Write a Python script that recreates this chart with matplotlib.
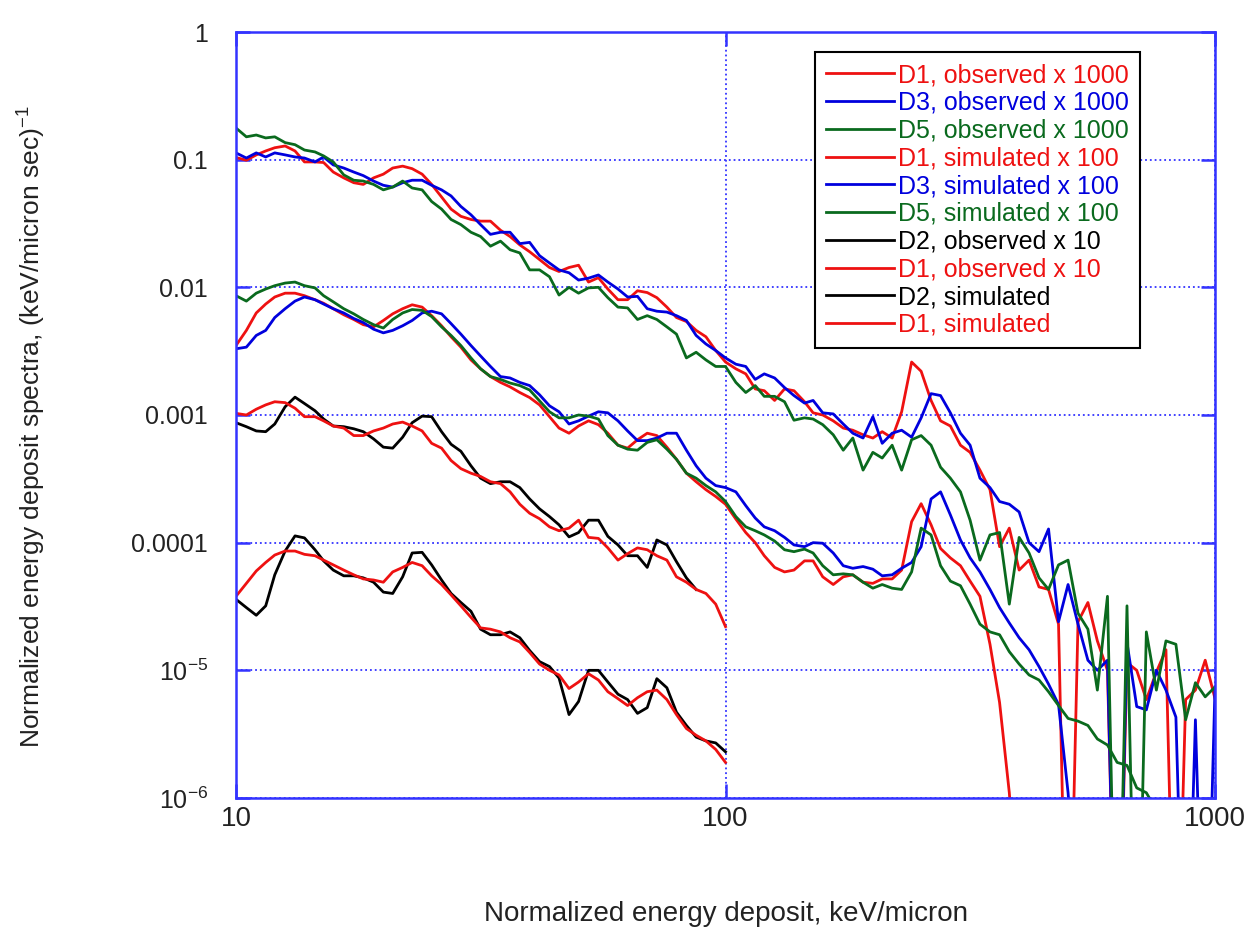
import matplotlib
matplotlib.use("Agg")
import matplotlib.pyplot as plt

plt.rcParams['mathtext.default'] = 'regular'
plt.rcParams['font.family'] = ['Liberation Sans', 'DejaVu Sans']

# energy grid (keV/micron) where the curves were read
energy_low = [10, 10.5, 11, 11.5, 12, 12.6, 13.2, 13.8, 14.5, 15.1, 15.8, 16.6, 17.4, 18.2, 19.1,
              20, 20.9, 21.9, 22.9, 24, 25.1, 26.3, 27.5, 28.8, 30.2, 31.6, 33.1, 34.7, 36.3, 38,
              39.8, 41.7, 43.7, 45.7, 47.9, 50.1, 52.5, 55, 57.5, 60.3, 63.1, 66.1, 69.2, 72.4, 75.9,
              79.4, 83.2, 87.1, 91.2, 95.5, 100]
energy_high = [105, 110, 115, 120, 126, 132, 138, 145, 151, 158, 166, 174, 182, 191, 200, 209, 219,
               229, 240, 251, 263, 275, 288, 302, 316, 331, 347, 363, 380, 398, 417, 437, 457, 479,
               501, 525, 550, 575, 603, 631, 661, 692, 724, 759, 794, 832, 871, 912, 955, 1000]
energy = energy_low + energy_high

# observed x 1000
d1_obs_1000 = [0.104, 0.099, 0.109, 0.117, 0.124, 0.128, 0.117, 0.096, 0.096, 0.095, 0.080, 0.072,
               0.066, 0.064, 0.072, 0.077, 0.086, 0.089, 0.085, 0.077, 0.064, 0.051, 0.041, 0.036,
               0.034, 0.033, 0.033, 0.028, 0.025, 0.0215, 0.019, 0.0165, 0.0143, 0.0133, 0.0143,
               0.0149, 0.011, 0.0119, 0.0097, 0.0080, 0.0080, 0.0094, 0.0091, 0.0083, 0.0070, 0.0058,
               0.0054, 0.0046, 0.0041, 0.0032, 0.0026, 0.0023, 0.0021, 0.0016, 0.00155, 0.0013,
               0.0016, 0.00155, 0.00127, 0.00104, 0.001, 0.0009, 0.00079, 0.00076, 0.0007, 0.00066,
               0.00074, 0.00066, 0.00106, 0.0026, 0.0022, 0.0013, 0.0009, 0.00082, 0.00058, 0.00051,
               0.00037, 0.00026, 9.3e-5, 0.00013, 6.1e-5, 7.3e-5, 4.5e-5, 4.3e-5, 2.3e-5, 1e-8,
               2.4e-5, 3.4e-5, 1.7e-5, 1.0e-5, 1e-8, 1.15e-5, 1.0e-5, 5.9e-6, 9.7e-6, 1.45e-5, 1e-8,
               5.9e-6, 7.0e-6, 1.2e-5, 6e-6]
d3_obs_1000 = [0.113, 0.103, 0.113, 0.105, 0.113, 0.109, 0.105, 0.103, 0.096, 0.105, 0.091, 0.086,
               0.080, 0.075, 0.068, 0.063, 0.061, 0.066, 0.069, 0.069, 0.063, 0.058, 0.052, 0.043,
               0.037, 0.031, 0.026, 0.027, 0.027, 0.022, 0.0225, 0.0177, 0.0155, 0.0137, 0.013,
               0.0114, 0.0118, 0.0125, 0.011, 0.0097, 0.0084, 0.0085, 0.0068, 0.0065, 0.0064, 0.006,
               0.0055, 0.0042, 0.0036, 0.0032, 0.0028, 0.0025, 0.0024, 0.0019, 0.0021, 0.00195,
               0.00164, 0.00142, 0.00124, 0.0013, 0.00104, 0.00102, 0.00085, 0.00072, 0.00066,
               0.00097, 0.0006, 0.00072, 0.00076, 0.00067, 0.00095, 0.00147, 0.00142, 0.00104,
               0.00072, 0.00058, 0.00032, 0.00027, 0.00021, 0.0002, 0.000174, 0.0001, 8.5e-5,
               0.000128, 2.4e-5, 4.7e-5, 2.3e-5, 1.2e-5, 1.0e-5, 1.2e-5, 1e-8, 1.65e-5, 5.2e-6,
               4.9e-6, 1.0e-5, 7.0e-6, 4.3e-6, 1e-8, 4.1e-6, 1e-8, 7.4e-6]
d5_obs_1000 = [0.177, 0.151, 0.156, 0.148, 0.151, 0.136, 0.131, 0.119, 0.115, 0.107, 0.096, 0.076,
               0.069, 0.068, 0.064, 0.058, 0.061, 0.068, 0.060, 0.058, 0.047, 0.041, 0.034, 0.031,
               0.027, 0.025, 0.021, 0.023, 0.0197, 0.0186, 0.0137, 0.0137, 0.0121, 0.0087, 0.01,
               0.009, 0.0099, 0.01, 0.0083, 0.007, 0.0069, 0.0056, 0.006, 0.0056, 0.0049, 0.0043,
               0.0028, 0.0031, 0.0027, 0.0024, 0.0024, 0.0018, 0.0015, 0.0017, 0.0014, 0.0014,
               0.00127, 0.00091, 0.00095, 0.00093, 0.00084, 0.0007, 0.00053, 0.00066, 0.00037,
               0.00051, 0.00046, 0.00058, 0.00037, 0.00064, 0.00069, 0.00058, 0.00039, 0.00032,
               0.00025, 0.00015, 7.3e-5, 0.000115, 0.00012, 3.3e-5, 0.00011, 8.3e-5, 5.3e-5, 4.3e-5,
               6.7e-5, 7.3e-5, 2.8e-5, 2.1e-5, 7.0e-6, 3.8e-5, 1e-8, 3.2e-5, 1e-8, 2.0e-5, 7e-6,
               1.7e-5, 1.6e-5, 4.1e-6, 8.0e-6, 6.2e-6, 7.4e-6]

# simulated x 100
d1_sim_100 = [0.0035, 0.0046, 0.0063, 0.0074, 0.0084, 0.009, 0.009, 0.0086, 0.008, 0.0075, 0.0068,
              0.0061, 0.0056, 0.0051, 0.0049, 0.0055, 0.0062, 0.0068, 0.0073, 0.007, 0.006, 0.005,
              0.0041, 0.0034, 0.0027, 0.0023, 0.002, 0.0018, 0.00166, 0.0015, 0.00137, 0.0012,
              0.00097, 0.00079, 0.00072, 0.00082, 0.0009, 0.00084, 0.00072, 0.00058, 0.00055,
              0.00064, 0.00072, 0.00069, 0.00056, 0.00045, 0.00035, 0.0003, 0.00026, 0.00023, 0.0002,
              0.000153, 0.00012, 0.0001, 7.9e-5, 6.4e-5, 5.9e-5, 6.1e-5, 7.2e-5, 7.2e-5, 5.4e-5,
              4.7e-5, 5.4e-5, 5.6e-5, 4.9e-5, 4.8e-5, 5.2e-5, 5.2e-5, 6.1e-5, 0.000146, 0.000202,
              0.000138, 9.0e-5, 7.6e-5, 6.6e-5, 5.0e-5, 3.8e-5, 1.6e-5, 5.6e-6, 1.1e-6, 1e-7]
d3_sim_100 = [0.0033, 0.0034, 0.0042, 0.0046, 0.0058, 0.0068, 0.0078, 0.0084, 0.008, 0.0074, 0.0068,
              0.0063, 0.0057, 0.0053, 0.0047, 0.0044, 0.0046, 0.005, 0.0055, 0.0063, 0.0065, 0.0062,
              0.0052, 0.0043, 0.0035, 0.0029, 0.0024, 0.002, 0.00195, 0.0018, 0.0017, 0.00144,
              0.00118, 0.00106, 0.00085, 0.0009, 0.00098, 0.00106, 0.00104, 0.0009, 0.00075,
              0.00063, 0.00063, 0.00066, 0.00072, 0.00072, 0.00053, 0.0004, 0.00032, 0.00028,
              0.00027, 0.00025, 0.000195, 0.000156, 0.000133, 0.000124, 0.00011, 9.6e-5, 9.3e-5,
              1e-4, 9.9e-5, 8.3e-5, 6.6e-5, 6.3e-5, 6.5e-5, 6.2e-5, 5.5e-5, 5.6e-5, 6.3e-5, 7.0e-5,
              9.3e-5, 0.00022, 0.00025, 0.000165, 0.000105, 7.6e-5, 5.9e-5, 4.3e-5, 3.1e-5, 2.35e-5,
              1.8e-5, 1.45e-5, 1.07e-5, 7.8e-6, 5.4e-6, 1.1e-6, 1e-7]
d5_sim_100 = [0.0086, 0.0078, 0.009, 0.0097, 0.0103, 0.0108, 0.011, 0.0103, 0.0099, 0.0086, 0.0077,
              0.0068, 0.0062, 0.0056, 0.0051, 0.0048, 0.0056, 0.0063, 0.0067, 0.0066, 0.0059, 0.0049,
              0.0042, 0.0035, 0.0028, 0.0023, 0.002, 0.0019, 0.00178, 0.0017, 0.00157, 0.00129,
              0.00106, 0.00095, 0.00095, 0.001, 0.00098, 0.00093, 0.00069, 0.00058, 0.00054,
              0.00053, 0.00061, 0.00064, 0.00054, 0.00045, 0.00035, 0.00032, 0.00028, 0.00025,
              0.00021, 0.00016, 0.000133, 0.000124, 0.000115, 0.000103, 8.8e-5, 8.5e-5, 8.9e-5,
              8.3e-5, 6.6e-5, 5.6e-5, 5.7e-5, 5.6e-5, 4.9e-5, 4.4e-5, 4.7e-5, 4.4e-5, 4.3e-5, 5.9e-5,
              0.00013, 0.000115, 6.6e-5, 5.0e-5, 4.6e-5, 3.3e-5, 2.3e-5, 2.0e-5, 1.9e-5, 1.4e-5,
              1.12e-5, 9.2e-6, 8.4e-6, 6.8e-6, 5.3e-6, 4.2e-6, 4.0e-6, 3.7e-6, 2.9e-6, 2.6e-6,
              1.9e-6, 1.8e-6, 1.2e-6, 1.1e-6, 8e-7]

# observed x 10
d2_obs_10 = [0.00087, 0.00081, 0.00075, 0.00074, 0.00085, 0.00116, 0.00138, 0.00123, 0.00108,
             0.00093, 0.00082, 0.00081, 0.00078, 0.00074, 0.00065, 0.00056, 0.00055, 0.00067,
             0.00087, 0.00098, 0.00097, 0.00074, 0.00059, 0.00052, 0.0004, 0.00032, 0.00029, 0.0003,
             0.0003, 0.00027, 0.00022, 0.000184, 0.00016, 0.000138, 0.000111, 0.00012, 0.00015,
             0.00015, 0.000112, 9.6e-5, 7.9e-5, 7.9e-5, 6.4e-5, 0.000105, 9.6e-5, 7.1e-5, 5.3e-5,
             4.3e-5]
d1_obs_10 = [0.00103, 0.001, 0.00111, 0.0012, 0.00127, 0.00125, 0.00113, 0.00097, 0.00097, 0.0009,
             0.00082, 0.00079, 0.00069, 0.00069, 0.00075, 0.00079, 0.00085, 0.00088, 0.00082,
             0.00075, 0.0006, 0.00055, 0.00044, 0.00038, 0.00035, 0.00033, 0.0003, 0.00029, 0.00025,
             0.0002, 0.00017, 0.000154, 0.000133, 0.000124, 0.00013, 0.00015, 0.00011, 0.000108,
             9.1e-5, 7.3e-5, 8.2e-5, 9.1e-5, 8.8e-5, 7.9e-5, 7.3e-5, 5.4e-5, 4.9e-5, 4.3e-5, 4.0e-5,
             3.3e-5, 2.2e-5]

# simulated
d2_sim = [3.6e-5, 3.1e-5, 2.7e-5, 3.2e-5, 5.6e-5, 8.6e-5, 0.000113, 0.000109, 8.8e-5, 7.2e-5, 6.1e-5,
          5.5e-5, 5.5e-5, 5.3e-5, 4.9e-5, 4.1e-5, 4.0e-5, 5.4e-5, 8.3e-5, 8.4e-5, 6.7e-5, 5.1e-5,
          4.0e-5, 3.4e-5, 2.9e-5, 2.1e-5, 1.9e-5, 1.9e-5, 2.0e-5, 1.8e-5, 1.43e-5, 1.17e-5, 1.07e-5,
          8.7e-6, 4.5e-6, 5.7e-6, 1.0e-5, 1.0e-5, 8.1e-6, 6.5e-6, 5.9e-6, 4.6e-6, 5.1e-6, 8.6e-6,
          7.3e-6, 4.7e-6, 3.7e-6, 3.0e-6, 2.8e-6, 2.7e-6, 2.3e-6]
d1_sim = [3.8e-5, 4.8e-5, 6.0e-5, 7.0e-5, 8.0e-5, 8.6e-5, 8.6e-5, 8.1e-5, 7.9e-5, 7.3e-5, 6.7e-5,
          6.1e-5, 5.6e-5, 5.2e-5, 5.1e-5, 4.9e-5, 5.9e-5, 6.4e-5, 7.0e-5, 6.6e-5, 5.5e-5, 4.7e-5,
          3.9e-5, 3.2e-5, 2.6e-5, 2.15e-5, 2.1e-5, 2.0e-5, 1.8e-5, 1.67e-5, 1.38e-5, 1.12e-5, 1.0e-5,
          9.2e-6, 7.2e-6, 8.1e-6, 9.4e-6, 8.4e-6, 6.8e-6, 6.0e-6, 5.3e-6, 6.1e-6, 6.8e-6, 7.0e-6,
          5.9e-6, 4.5e-6, 3.5e-6, 3.1e-6, 2.8e-6, 2.4e-6, 1.9e-6]

red = '#ee1111'
blue = '#0000dd'
green = '#0a6a1e'
black = '#000000'
axis_blue = '#3333ff'

series = [
    (d1_obs_1000, red, 'D1, observed x 1000'),
    (d3_obs_1000, blue, 'D3, observed x 1000'),
    (d5_obs_1000, green, 'D5, observed x 1000'),
    (d1_sim_100, red, 'D1, simulated x 100'),
    (d3_sim_100, blue, 'D3, simulated x 100'),
    (d5_sim_100, green, 'D5, simulated x 100'),
    (d2_obs_10, black, 'D2, observed x 10'),
    (d1_obs_10, red, 'D1, observed x 10'),
    (d2_sim, black, 'D2, simulated'),
    (d1_sim, red, 'D1, simulated'),
]

fig = plt.figure(figsize=(12.49, 9.30), dpi=100)
ax = fig.add_axes([0.18895, 0.14194, 0.78383, 0.82365])

for values, color, label in series:
    ax.plot(energy[:len(values)], values, color=color, lw=2.0, label=label)

ax.set_xscale('log')
ax.set_yscale('log')
ax.set_xlim(10, 1000)
ax.set_ylim(1e-6, 1)

# axes box, ticks and grid in blue
for side in ax.spines.values():
    side.set_color(axis_blue)
    side.set_linewidth(1.8)
ax.grid(True, which='major', color=axis_blue, linestyle=':', linewidth=1.3)
ax.minorticks_off()
ax.tick_params(which='major', direction='in', length=10, width=1.8, color=axis_blue,
               top=True, right=True, labelcolor='#222222')

ax.set_xticks([10, 100, 1000])
ax.set_xticklabels(['10', '100', '1000'], fontsize=20)
ax.tick_params(axis='x', pad=6)
ax.set_yticks([1e-6, 1e-5, 1e-4, 1e-3, 1e-2, 1e-1, 1])
ax.set_yticklabels(['10$^{-6}$', '10$^{-5}$', '0.0001', '0.001', '0.01', '0.1', '1'], fontsize=18)
ax.tick_params(axis='y', pad=20)

ax.set_xlabel('Normalized energy deposit, keV/micron', fontsize=20, color='#222222')
ax.set_ylabel('Normalized energy deposit spectra, (keV/micron sec)$^{-1}$', fontsize=19,
              color='#222222')
ax.xaxis.set_label_coords(0.5, -0.134)
ax.yaxis.set_label_coords(-0.192, 0.484)

leg = ax.legend(loc='upper right', bbox_to_anchor=(0.9234, 0.9739), borderaxespad=0,
                labelcolor='linecolor', fancybox=False, framealpha=1, edgecolor='black',
                handlelength=2.7, handletextpad=0.16, labelspacing=0.15, borderpad=0.45,
                prop={'family': 'Liberation Sans', 'size': 18})
leg.get_frame().set_linewidth(1.5)

plt.savefig('out.png', dpi=100)
